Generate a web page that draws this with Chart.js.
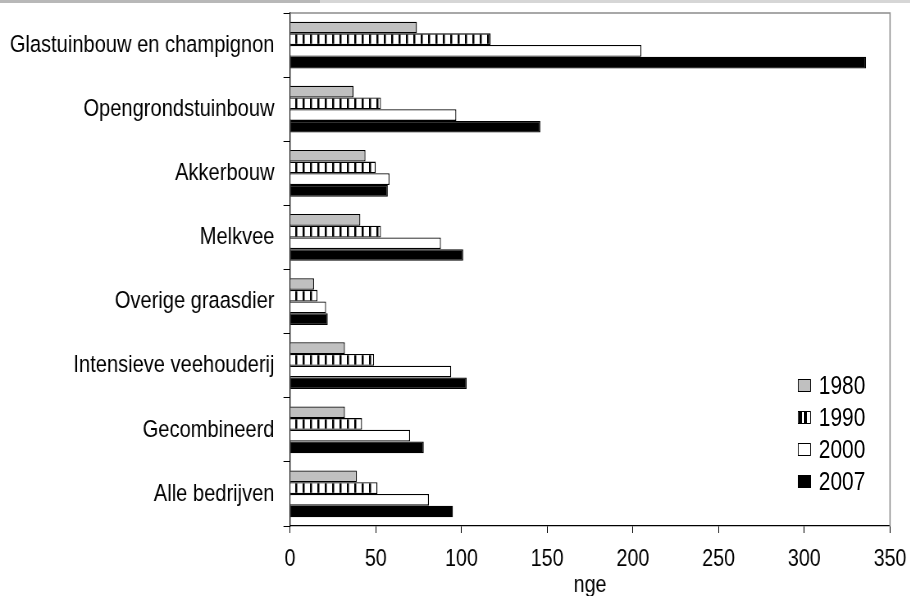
<!DOCTYPE html>
<html>
<head>
<meta charset="utf-8">
<script src="https://cdn.jsdelivr.net/npm/chart.js@4"></script>
<style>
  body { margin: 0; background: #fff; overflow: hidden; }
  #page { position: relative; width: 910px; height: 596px; overflow: hidden; }
  /* the chart is drawn wide and squeezed, so the Arial metrics become narrow like the original */
  #wrap { position: absolute; left: 0; top: 0; width: 1110px; height: 596px;
    transform: scaleX(0.82); transform-origin: 0 0; }
  #topStrip { position: absolute; left: 0; top: 0; width: 910px; height: 3px;
    background: linear-gradient(to right, #b8b8b8 0 320px, #d6d6d6 320px); }
  #legend { position: absolute; left: 973px; top: 369px; font-family: 'Liberation Sans', Arial, sans-serif;
    font-size: 25.5px; color: #000; }
  .item { height: 32px; line-height: 32px; white-space: nowrap; }
  .sw { display: inline-block; box-sizing: border-box; width: 15.5px; height: 12.7px; border: 1.5px solid #000;
    vertical-align: middle; margin-right: 10px; position: relative; top: -2px; }
</style>
</head>
<body>
<div id="page">
  <div id="wrap">
    <canvas id="myChart" width="1110" height="596"></canvas>
    <div id="legend"></div>
  </div>
  <div id="topStrip"></div>
</div>
<script>
const categories = ['Glastuinbouw en champignon', 'Opengrondstuinbouw', 'Akkerbouw', 'Melkvee',
    'Overige graasdier', 'Intensieve veehouderij', 'Gecombineerd', 'Alle bedrijven'];
const years = ['1980', '1990', '2000', '2007'];
const values1980 = [74, 37, 44, 41, 14, 32, 32, 39];
const values1990 = [117, 53, 50, 53, 16, 49, 42, 51];
const values2000 = [205, 97, 58, 88, 21, 94, 70, 81];
const values2007 = [336, 146, 57, 101, 22, 103, 78, 95];
const xMin = 0;
const xMax = 350;
const xStep = 50;
const axisTitle = 'nge';

const fontFamily = "'Liberation Sans', Arial, sans-serif";

// vertical stripes for 1990
function stripePattern() {
    const c = document.createElement('canvas');
    c.width = 18;
    c.height = 4;
    const ctx = c.getContext('2d');
    ctx.fillStyle = '#fff';
    ctx.fillRect(0, 0, 18, 4);
    ctx.fillStyle = '#000';
    ctx.fillRect(0, 0, 2.5, 4);
    ctx.fillRect(9, 0, 2.5, 4);
    return document.getElementById('myChart').getContext('2d').createPattern(c, 'repeat');
}

const fills = ['#c0c0c0', stripePattern(), '#ffffff', '#000000'];
const seriesValues = [values1980, values1990, values2000, values2007];

const plotFrame = {
    id: 'plotFrame',
    beforeDatasetsDraw(chart) {
        const a = chart.chartArea;
        const ctx = chart.ctx;
        ctx.save();
        ctx.strokeStyle = '#8c8c8c';
        ctx.lineWidth = 1.5;
        ctx.beginPath();
        ctx.moveTo(a.left, a.top);
        ctx.lineTo(a.right, a.top);
        ctx.lineTo(a.right, a.bottom);
        ctx.stroke();
        ctx.restore();
    }
};

const chart = new Chart(document.getElementById('myChart'), {
    type: 'bar',
    data: {
        labels: categories,
        datasets: years.map((y, i) => ({
            label: y,
            data: seriesValues[i],
            backgroundColor: fills[i],
            borderColor: '#000',
            borderWidth: 1.3,
            categoryPercentage: 0.73,
            barPercentage: 1.0
        }))
    },
    options: {
        indexAxis: 'y',
        responsive: false,
        animation: false,
        layout: { padding: { top: 13, right: 24.6, left: 0, bottom: 0 } },
        plugins: {
            legend: { display: false },
            tooltip: { enabled: false }
        },
        scales: {
            x: {
                min: xMin,
                max: xMax,
                ticks: { stepSize: xStep, color: '#000', padding: 12, font: { family: fontFamily, size: 24 } },
                grid: { drawOnChartArea: false, tickLength: 7, color: '#000' },
                border: { color: '#000', width: 1.3 },
                title: { display: true, text: axisTitle, color: '#000', padding: { top: 0, bottom: -4 },
                    font: { family: fontFamily, size: 24 } },
                afterFit(scale) {
                    scale.height = 70;
                    scale.paddingLeft = 0;
                    scale.paddingRight = 0;
                }
            },
            y: {
                ticks: { color: '#000', padding: 11, font: { family: fontFamily, size: 24.5 } },
                grid: { drawOnChartArea: false, tickLength: 8, color: '#000', offset: true },
                border: { color: '#000', width: 1.3 },
                afterFit(scale) {
                    scale.width = 353.7;
                    scale.paddingTop = 0;
                    scale.paddingBottom = 0;
                }
            }
        }
    },
    plugins: [plotFrame]
});

// legend
const swatchStyles = [
    'background:#c0c0c0;',
    'background:linear-gradient(to right,#000 0 25%,#fff 25% 50%,#000 50% 70%,#fff 70%);',
    'background:#fff;',
    'background:#000;'
];
const legendBox = document.getElementById('legend');
years.forEach((y, i) => {
    const row = document.createElement('div');
    row.className = 'item';
    row.innerHTML = '<span class="sw" style="' + swatchStyles[i] + '"></span>' + y;
    legendBox.appendChild(row);
});
</script>
</body>
</html>
